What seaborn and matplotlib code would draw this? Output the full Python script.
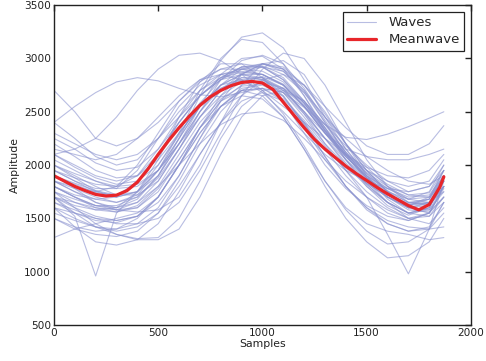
import numpy as np
import pandas as pd
import matplotlib
matplotlib.use("Agg")
import matplotlib.pyplot as plt
from matplotlib.lines import Line2D
import seaborn as sns

# Sample positions at which each wave was read
X = [0, 100, 200, 300, 400, 500, 600, 700, 800, 900, 1000,
     1100, 1200, 1300, 1400, 1500, 1600, 1700, 1800, 1870]

w01 = [1900,1820,1740,1720,1830,2080,2350,2580,2720,2790,2780,2640,2380,2140,1970,1830,1700,1600,1640,1880]
w02 = [2050,1950,1850,1780,1800,1950,2200,2450,2650,2780,2830,2750,2550,2300,2080,1900,1760,1650,1620,1800]
w03 = [1750,1650,1580,1560,1620,1800,2100,2400,2620,2740,2760,2680,2450,2200,2000,1830,1700,1620,1680,1950]
w04 = [1700,1520,960,1550,1750,2000,2300,2550,2700,2800,2820,2720,2480,2200,1950,1700,1350,980,1400,1850]
w05 = [2400,2550,2680,2780,2820,2790,2720,2660,2640,2680,2720,2680,2540,2380,2260,2240,2290,2360,2440,2500]
w06 = [2100,2150,2250,2450,2700,2900,3030,3050,2980,2850,2700,2550,2400,2250,2100,1980,1900,1880,1950,2100]
w07 = [2700,2500,2250,2180,2250,2400,2600,2780,2900,2950,2920,2800,2600,2380,2180,2000,1850,1750,1800,2000]
w08 = [1800,1700,1620,1600,1680,1900,2250,2650,2980,3200,3240,3100,2800,2450,2150,1900,1720,1620,1700,1950]
w09 = [1600,1420,1280,1250,1300,1450,1750,2100,2400,2600,2680,2600,2400,2150,1900,1700,1550,1480,1550,1800]
w10 = [1700,1550,1420,1350,1310,1320,1500,1850,2250,2550,2700,2720,2600,2350,2050,1800,1620,1530,1600,1850]
w11 = [1320,1400,1450,1500,1550,1700,2000,2350,2600,2750,2800,2720,2500,2250,2000,1800,1650,1550,1600,1900]
w12 = [2400,2250,2080,2000,2050,2250,2500,2700,2820,2870,2850,2750,2550,2300,2100,1950,1850,1800,1850,2050]
w13 = [1950,1880,1820,1800,1900,2150,2450,2700,2850,2900,2880,2780,2580,2330,2100,1880,1720,1620,1650,1850]
w14 = [1850,1750,1650,1600,1650,1850,2150,2450,2700,2860,2920,2880,2700,2450,2200,1980,1800,1680,1700,1900]
w15 = [1650,1580,1500,1450,1450,1500,1650,1950,2300,2650,2900,3050,3000,2750,2400,2050,1800,1650,1640,1800]
w16 = [2200,2080,1950,1880,1900,2050,2300,2550,2750,2850,2850,2750,2550,2300,2080,1900,1780,1700,1720,1900]
w17 = [1800,1700,1600,1560,1600,1780,2050,2350,2550,2650,2620,2450,2150,1800,1500,1280,1130,1150,1280,1500]
w18 = [1550,1480,1420,1400,1450,1600,1900,2250,2550,2720,2750,2650,2400,2080,1800,1580,1450,1380,1400,1550]
w19 = [1900,1780,1650,1580,1600,1750,2050,2350,2600,2700,2650,2450,2150,1850,1600,1450,1380,1350,1300,1320]
w20 = [1700,1600,1520,1480,1520,1700,2000,2350,2650,2850,2950,2900,2700,2400,2100,1850,1650,1500,1450,1600]
w21 = [2000,1900,1800,1720,1720,1850,2150,2500,2800,2980,3030,2950,2720,2420,2150,1920,1750,1650,1680,1900]
w22 = [1600,1500,1420,1380,1420,1550,1800,2100,2400,2650,2800,2850,2750,2500,2200,1950,1750,1600,1580,1750]
w23 = [1850,1750,1680,1650,1720,1950,2300,2700,3000,3180,3150,2950,2650,2320,2050,1850,1700,1600,1650,1900]
w24 = [2100,2000,1900,1850,1900,2100,2400,2650,2800,2850,2800,2680,2480,2250,2050,1880,1750,1680,1750,2000]
w25 = [1750,1680,1620,1620,1700,1900,2200,2500,2720,2820,2800,2700,2500,2250,2020,1820,1650,1550,1600,1850]
w26 = [2300,2200,2100,2050,2100,2250,2450,2650,2800,2900,2950,2900,2750,2550,2350,2180,2100,2100,2200,2370]
w27 = [1500,1400,1350,1330,1380,1550,1850,2200,2500,2700,2780,2720,2550,2300,2050,1820,1650,1550,1580,1800]
w28 = [1950,1850,1780,1780,1950,2250,2550,2750,2850,2880,2850,2760,2580,2350,2120,1950,1820,1720,1700,1850]
w29 = [2150,2100,2050,2100,2250,2450,2650,2800,2850,2800,2680,2500,2300,2100,1950,1850,1780,1750,1800,1950]
w30 = [1650,1550,1480,1460,1520,1700,2000,2300,2550,2700,2720,2600,2350,2050,1800,1600,1450,1380,1420,1650]
w31 = [1800,1700,1620,1580,1560,1580,1700,2000,2400,2750,2950,2980,2850,2550,2200,1900,1680,1550,1520,1650]
w32 = [1900,1830,1760,1720,1750,1900,2200,2550,2850,3000,3020,2900,2650,2350,2080,1880,1730,1640,1680,1880]
w33 = [2000,1920,1850,1800,1820,1950,2200,2500,2750,2900,2920,2820,2600,2330,2100,1930,1800,1720,1740,1950]
w34 = [1700,1650,1600,1580,1650,1800,2000,2200,2380,2480,2500,2420,2250,2050,1850,1700,1580,1500,1520,1700]
w35 = [1850,1780,1700,1650,1700,1880,2150,2450,2700,2820,2820,2700,2500,2300,2150,2080,2050,2050,2100,2150]
w36 = [1600,1550,1500,1480,1520,1650,1900,2250,2600,2850,2950,2920,2750,2480,2200,1950,1750,1600,1550,1700]
w37 = [2000,1880,1760,1700,1750,1950,2250,2550,2750,2850,2820,2650,2380,2080,1800,1600,1480,1420,1400,1420]
w38 = [1500,1420,1380,1400,1500,1700,2000,2300,2550,2700,2720,2620,2420,2180,1950,1750,1600,1500,1550,1780]
w39 = [2250,2150,2020,1950,1980,2150,2400,2650,2820,2920,2930,2850,2680,2450,2250,2080,1950,1850,1820,1900]
w40 = [1750,1600,1450,1350,1300,1300,1400,1700,2100,2450,2650,2700,2600,2380,2120,1880,1700,1600,1620,1800]
w41 = [1850,1800,1750,1800,2000,2300,2600,2800,2900,2900,2850,2750,2560,2320,2100,1920,1780,1680,1650,1750]
w42 = [1700,1620,1580,1600,1750,2050,2450,2780,2950,2950,2820,2600,2300,2000,1780,1620,1520,1480,1550,1800]
w43 = [1950,1850,1750,1700,1750,1950,2250,2550,2750,2800,2700,2480,2180,1850,1580,1380,1260,1280,1400,1650]
w44 = [1800,1720,1680,1700,1850,2100,2400,2650,2820,2920,2950,2880,2680,2400,2120,1880,1700,1580,1560,1700]
w45 = [2100,1980,1880,1820,1850,2000,2280,2580,2800,2920,2920,2800,2580,2320,2080,1880,1730,1630,1650,1850]

WAVES = [w01, w02, w03, w04, w05, w06, w07, w08, w09, w10, w11, w12, w13, w14, w15,
         w16, w17, w18, w19, w20, w21, w22, w23, w24, w25, w26, w27, w28, w29, w30,
         w31, w32, w33, w34, w35, w36, w37, w38, w39, w40, w41, w42, w43, w44, w45]

X_MEAN = [0, 50, 100, 150, 200, 250, 300, 350, 400, 450, 500, 550, 600, 650, 700,
          750, 800, 850, 900, 950, 1000, 1050, 1100, 1150, 1200, 1250, 1300, 1350,
          1400, 1450, 1500, 1550, 1600, 1650, 1700, 1750, 1800, 1850, 1870]
MEAN = [1900, 1850, 1800, 1760, 1725, 1710, 1718, 1760, 1840, 1960, 2100, 2230,
        2350, 2460, 2560, 2640, 2700, 2745, 2775, 2785, 2770, 2710, 2590, 2470,
        2350, 2240, 2150, 2070, 1990, 1920, 1855, 1790, 1730, 1675, 1620, 1580,
        1630, 1790, 1890]

X_TICKS = [0, 500, 1000, 1500, 2000]
Y_TICKS = [500, 1000, 1500, 2000, 2500, 3000, 3500]

rows = []
for i, w in enumerate(WAVES):
    for xv, yv in zip(X, w):
        rows.append({"wave": i, "Samples": xv, "Amplitude": yv})
df = pd.DataFrame(rows)
dmean = pd.DataFrame({"Samples": X_MEAN, "Amplitude": MEAN})

sns.set_style("white")
plt.rcParams["font.family"] = ["DejaVu Sans"]

fig = plt.figure(figsize=(4.86, 3.61), dpi=100)
ax = fig.add_axes([0.111, 0.0997, 0.858, 0.886])

WAVE_COLOR = "#8a92cf"
WAVE_ALPHA = 0.6
sns.lineplot(data=df, x="Samples", y="Amplitude", units="wave", estimator=None,
             color=WAVE_COLOR, alpha=WAVE_ALPHA, linewidth=0.8, ax=ax, legend=False)
sns.lineplot(data=dmean, x="Samples", y="Amplitude", color="#e8262a",
             linewidth=2.3, ax=ax, legend=False)

ax.set_xlim(0, 2000)
ax.set_ylim(500, 3500)
ax.set_xticks(X_TICKS)
ax.set_yticks(Y_TICKS)
ax.tick_params(direction="in", length=4, width=1, top=True, right=True,
               labelsize=7.6, colors="#222222", pad=2)
for s in ax.spines.values():
    s.set_color("#222222")
    s.set_linewidth(1.0)
ax.set_xlabel("Samples", fontsize=7.8, labelpad=1, color="#222222")
ax.set_ylabel("Amplitude", fontsize=7.8, labelpad=3, color="#222222")

handles = [Line2D([0], [0], color=WAVE_COLOR, alpha=WAVE_ALPHA, linewidth=0.8),
           Line2D([0], [0], color="#e8262a", linewidth=2.3)]
leg = ax.legend(handles, ["Waves", "Meanwave"], loc="upper right", fontsize=9.5,
                frameon=True, fancybox=False, borderaxespad=0.5,
                handlelength=2.2, handletextpad=0.9, borderpad=0.35,
                labelspacing=0.3)
leg.get_frame().set_edgecolor("#222222")
leg.get_frame().set_linewidth(0.9)
leg.get_frame().set_alpha(1.0)

fig.savefig("out.png", dpi=100)
